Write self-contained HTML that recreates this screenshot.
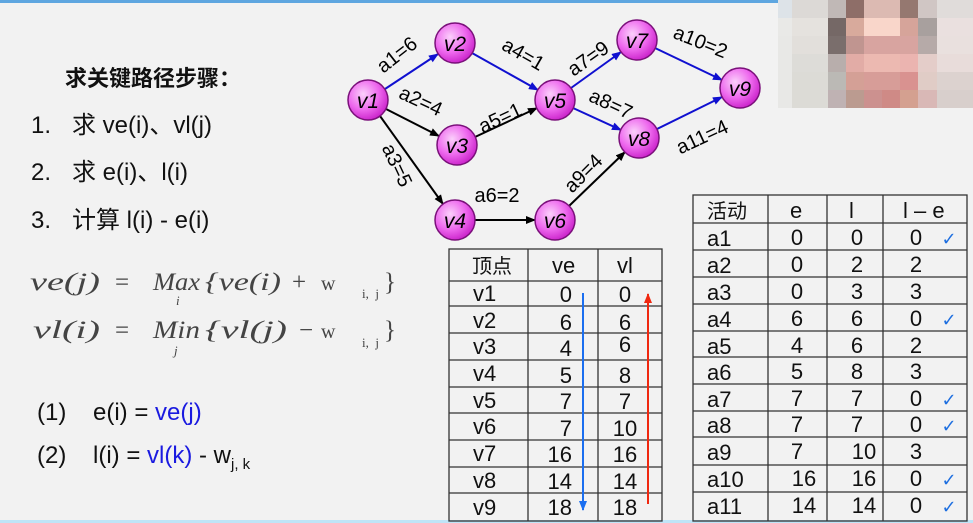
<!DOCTYPE html>
<html><head><meta charset="utf-8"><style>
html,body{margin:0;padding:0;background:#f2f2f2;}
svg{display:block}
text{white-space:pre}
</style></head><body>
<svg width="973" height="523" viewBox="0 0 973 523" xmlns="http://www.w3.org/2000/svg" xml:space="preserve">
<defs>
<radialGradient id="ng" cx="0.38" cy="0.35" r="0.7">
<stop offset="0" stop-color="#fbd0fb"/><stop offset="0.55" stop-color="#ee6aee"/><stop offset="1" stop-color="#c81ec8"/>
</radialGradient>
<marker id="ab" markerWidth="10" markerHeight="8" refX="9" refY="4" orient="auto" markerUnits="userSpaceOnUse"><path d="M0,0 L10,4 L0,8 Z" fill="#1010d0"/></marker>
<marker id="ak" markerWidth="10" markerHeight="8" refX="9" refY="4" orient="auto" markerUnits="userSpaceOnUse"><path d="M0,0 L10,4 L0,8 Z" fill="#000"/></marker>
<marker id="tb" markerWidth="10" markerHeight="8" refX="9" refY="4" orient="auto" markerUnits="userSpaceOnUse"><path d="M0,0 L10,4 L0,8 Z" fill="#1a6ef0"/></marker>
<marker id="tr" markerWidth="10" markerHeight="8" refX="9" refY="4" orient="auto" markerUnits="userSpaceOnUse"><path d="M0,0 L10,4 L0,8 Z" fill="#f02810"/></marker>
</defs>
<rect width="973" height="523" fill="#f2f2f2"/>
<rect x="0" y="0" width="783" height="3" fill="#5ea6e0"/>
<rect x="0" y="520" width="973" height="3" fill="#bfe4f7"/>

<g>
<rect x="778" y="0" width="195" height="108" fill="#e6e5e2"/>
<rect x="778" y="0" width="14" height="18" fill="#dde3e8"/><rect x="792" y="0" width="36" height="18" fill="#dcd9d6"/><rect x="828" y="0" width="18" height="18" fill="#c0b8b6"/><rect x="846" y="0" width="18" height="18" fill="#8e6e68"/><rect x="864" y="0" width="36" height="18" fill="#dcbab2"/><rect x="900" y="0" width="18" height="18" fill="#957870"/><rect x="918" y="0" width="19" height="18" fill="#d0c6c4"/><rect x="937" y="0" width="36" height="18" fill="#e0dcda"/>
<rect x="778" y="18" width="14" height="18" fill="#e9e9e7"/><rect x="792" y="18" width="36" height="18" fill="#e5e2de"/><rect x="828" y="18" width="18" height="18" fill="#756866"/><rect x="846" y="18" width="18" height="18" fill="#d8aa9c"/><rect x="864" y="18" width="36" height="18" fill="#f9d6ca"/><rect x="900" y="18" width="18" height="18" fill="#d6a49a"/><rect x="918" y="18" width="19" height="18" fill="#a8a09e"/><rect x="937" y="18" width="36" height="18" fill="#eae0df"/>
<rect x="778" y="36" width="14" height="18" fill="#e8e8e6"/><rect x="792" y="36" width="36" height="18" fill="#e2dfdb"/><rect x="828" y="36" width="18" height="18" fill="#7a6e6c"/><rect x="846" y="36" width="18" height="18" fill="#c09590"/><rect x="864" y="36" width="54" height="18" fill="#d8a4a0"/><rect x="918" y="36" width="19" height="18" fill="#b6aaa8"/><rect x="937" y="36" width="36" height="18" fill="#e9e0de"/>
<rect x="778" y="54" width="14" height="18" fill="#e8e8e6"/><rect x="792" y="54" width="36" height="18" fill="#dddcd8"/><rect x="828" y="54" width="18" height="18" fill="#b8aeac"/><rect x="846" y="54" width="18" height="18" fill="#e2aca6"/><rect x="864" y="54" width="36" height="18" fill="#ecb9b1"/><rect x="900" y="54" width="18" height="18" fill="#ebb4b0"/><rect x="918" y="54" width="19" height="18" fill="#e4cdc9"/><rect x="937" y="54" width="36" height="18" fill="#e8dcda"/>
<rect x="778" y="72" width="14" height="18" fill="#e8e8e6"/><rect x="792" y="72" width="36" height="18" fill="#dcdbd6"/><rect x="828" y="72" width="18" height="18" fill="#bbb9b5"/><rect x="846" y="72" width="18" height="18" fill="#d4a096"/><rect x="864" y="72" width="36" height="18" fill="#d79d98"/><rect x="900" y="72" width="18" height="18" fill="#d99290"/><rect x="918" y="72" width="19" height="18" fill="#e0ccc6"/><rect x="937" y="72" width="36" height="18" fill="#dcd2cf"/>
<rect x="778" y="90" width="14" height="18" fill="#e8e8e6"/><rect x="792" y="90" width="36" height="18" fill="#dcdbd6"/><rect x="828" y="90" width="18" height="18" fill="#bfb2b3"/><rect x="846" y="90" width="18" height="18" fill="#bb9b90"/><rect x="864" y="90" width="18" height="18" fill="#cc918f"/><rect x="882" y="90" width="18" height="18" fill="#cf8a86"/><rect x="900" y="90" width="18" height="18" fill="#d4a090"/><rect x="918" y="90" width="19" height="18" fill="#d9b8b6"/><rect x="937" y="90" width="36" height="18" fill="#d8cfcc"/>
</g>

<g font-family="Liberation Sans,Noto Sans CJK SC,sans-serif" fill="#111">
<text x="65" y="86" font-size="22" font-weight="bold">求关键路径步骤：</text>
<text x="31" y="133" font-size="24"><tspan>1.</tspan><tspan x="72">求 ve(i)、vl(j)</tspan></text>
<text x="31" y="180" font-size="24"><tspan>2.</tspan><tspan x="72">求 e(i)、l(i)</tspan></text>
<text x="31" y="228" font-size="24"><tspan>3.</tspan><tspan x="72">计算 l(i) - e(i)</tspan></text>
</g>
<g font-family="Liberation Serif,serif" fill="#444" font-size="25" font-style="italic">
<text x="30" y="290" textLength="70" lengthAdjust="spacingAndGlyphs">ve(j)</text>
<text x="115" y="290" font-style="normal">=</text>
<text x="153" y="290" textLength="47" lengthAdjust="spacingAndGlyphs">Max</text>
<text x="205" y="290" textLength="76" lengthAdjust="spacingAndGlyphs">{ve(i)</text>
<text x="292" y="290" font-style="normal">+</text>
<text x="321" y="290" font-style="normal" font-size="20">w</text>
<text x="362" y="298" font-style="normal" font-size="13">i,  j</text>
<text x="384" y="290" font-style="normal">}</text>
<text x="176" y="305" font-size="13">i</text>
<text x="33" y="338" textLength="67" lengthAdjust="spacingAndGlyphs">vl(i)</text>
<text x="115" y="338" font-style="normal">=</text>
<text x="153" y="338" textLength="47" lengthAdjust="spacingAndGlyphs">Min</text>
<text x="205" y="338" textLength="82" lengthAdjust="spacingAndGlyphs">{vl(j)</text>
<text x="299" y="338" font-style="normal">−</text>
<text x="321" y="338" font-style="normal" font-size="20">w</text>
<text x="362" y="347" font-style="normal" font-size="13">i,  j</text>
<text x="384" y="338" font-style="normal">}</text>
<text x="174" y="355" font-size="13">j</text>
</g>
<g font-family="Liberation Sans,sans-serif" font-size="24" fill="#111">
<text x="37" y="420"><tspan>(1)</tspan><tspan x="93">e(i) = </tspan><tspan fill="#1a1ae0">ve(j)</tspan></text>
<text x="37" y="463"><tspan>(2)</tspan><tspan x="93">l(i) = </tspan><tspan fill="#1a1ae0">vl(k)</tspan><tspan> - w</tspan><tspan font-size="15" dy="6">j, k</tspan></text>
</g>

<g stroke-width="2" fill="none">
<line x1="385" y1="89" x2="438" y2="54" stroke="#1010d0" marker-end="url(#ab)"/>
<line x1="472" y1="53" x2="538" y2="90" stroke="#1010d0" marker-end="url(#ab)"/>
<line x1="571" y1="88" x2="621" y2="52" stroke="#1010d0" marker-end="url(#ab)"/>
<line x1="573" y1="108" x2="621" y2="130" stroke="#1010d0" marker-end="url(#ab)"/>
<line x1="655" y1="48" x2="722" y2="80" stroke="#1010d0" marker-end="url(#ab)"/>
<line x1="657" y1="129" x2="722" y2="97" stroke="#1010d0" marker-end="url(#ab)"/>
<line x1="386" y1="109" x2="439" y2="136" stroke="#000" marker-end="url(#ak)"/>
<line x1="380" y1="116" x2="443" y2="204" stroke="#000" marker-end="url(#ak)"/>
<line x1="475" y1="137" x2="537" y2="108" stroke="#000" marker-end="url(#ak)"/>
<line x1="475" y1="220" x2="535" y2="220" stroke="#000" marker-end="url(#ak)"/>
<line x1="569" y1="206" x2="625" y2="152" stroke="#000" marker-end="url(#ak)"/>
</g>
<g font-family="Liberation Sans,sans-serif" font-size="20" fill="#000" text-anchor="middle">
<text transform="translate(401,60) rotate(-38)">a1=6</text>
<text transform="translate(520,60) rotate(30)">a4=1</text>
<text transform="translate(418,107) rotate(25)">a2=4</text>
<text transform="translate(391,168) rotate(65)">a3=5</text>
<text transform="translate(503,124) rotate(-25)">a5=1</text>
<text x="497" y="202">a6=2</text>
<text transform="translate(592,64) rotate(-35)">a7=9</text>
<text transform="translate(608,110) rotate(25)">a8=7</text>
<text transform="translate(588,178) rotate(-45)">a9=4</text>
<text transform="translate(698,48) rotate(22)">a10=2</text>
<text transform="translate(705,143) rotate(-25)">a11=4</text>
</g>
<g font-family="Liberation Sans,sans-serif" font-size="21" font-style="italic" text-anchor="middle" fill="#000">
<g stroke="#7a107a" stroke-width="1.5" fill="url(#ng)">
<circle cx="368" cy="100" r="20"/><circle cx="455" cy="43" r="20"/><circle cx="457" cy="145" r="20"/><circle cx="455" cy="220" r="20"/><circle cx="555" cy="100" r="20"/><circle cx="555" cy="220" r="20"/><circle cx="637" cy="40" r="20"/><circle cx="639" cy="138" r="20"/><circle cx="740" cy="88" r="20"/>
</g>
<text x="368" y="108">v1</text><text x="455" y="51">v2</text><text x="457" y="153">v3</text><text x="455" y="228">v4</text><text x="555" y="108">v5</text><text x="555" y="228">v6</text><text x="637" y="48">v7</text><text x="639" y="146">v8</text><text x="740" y="96">v9</text>
</g>

<g stroke="#333" stroke-width="1.3" fill="none">
<rect x="449" y="249" width="213" height="272"/>
<line x1="528" y1="249" x2="528" y2="521"/><line x1="598" y1="249" x2="598" y2="521"/>
<line x1="449" y1="281" x2="662" y2="281"/><line x1="449" y1="306" x2="662" y2="306"/><line x1="449" y1="333" x2="662" y2="333"/><line x1="449" y1="360" x2="662" y2="360"/><line x1="449" y1="387" x2="662" y2="387"/><line x1="449" y1="413" x2="662" y2="413"/><line x1="449" y1="440" x2="662" y2="440"/><line x1="449" y1="467" x2="662" y2="467"/><line x1="449" y1="493" x2="662" y2="493"/>
</g>
<g font-family="Liberation Sans,Noto Sans CJK SC,sans-serif" font-size="22" fill="#111">
<text x="472" y="273" font-size="20">顶点</text><text x="552" y="273">ve</text><text x="617" y="273">vl</text>
<g>
<text x="473" y="301">v1</text><text x="473" y="328">v2</text><text x="473" y="354">v3</text><text x="473" y="381">v4</text><text x="473" y="408">v5</text><text x="473" y="434">v6</text><text x="473" y="461">v7</text><text x="473" y="488">v8</text><text x="473" y="515">v9</text>
</g>
<g text-anchor="end">
<text x="572" y="302">0</text><text x="572" y="330">6</text><text x="572" y="356">4</text><text x="572" y="383">5</text><text x="572" y="409">7</text><text x="572" y="436">7</text><text x="572" y="462">16</text><text x="572" y="489">14</text><text x="572" y="515">18</text>
</g>
<g text-anchor="middle">
<text x="625" y="302">0</text><text x="625" y="330">6</text><text x="625" y="352">6</text><text x="625" y="383">8</text><text x="625" y="409">7</text><text x="625" y="436">10</text><text x="625" y="462">16</text><text x="625" y="489">14</text><text x="625" y="515">18</text>
</g>
</g>
<line x1="583" y1="293" x2="583" y2="510" stroke="#1a6ef0" stroke-width="2" marker-end="url(#tb)"/>
<line x1="648" y1="504" x2="648" y2="294" stroke="#f02810" stroke-width="2" marker-end="url(#tr)"/>

<g stroke="#333" stroke-width="1.3" fill="none">
<rect x="693" y="195" width="274" height="326"/>
<line x1="768" y1="195" x2="768" y2="521"/><line x1="827" y1="195" x2="827" y2="521"/><line x1="883" y1="195" x2="883" y2="521"/>
<line x1="693" y1="223" x2="967" y2="223"/><line x1="693" y1="250" x2="967" y2="250"/><line x1="693" y1="277" x2="967" y2="277"/><line x1="693" y1="304" x2="967" y2="304"/><line x1="693" y1="331" x2="967" y2="331"/><line x1="693" y1="357" x2="967" y2="357"/><line x1="693" y1="384" x2="967" y2="384"/><line x1="693" y1="411" x2="967" y2="411"/><line x1="693" y1="437" x2="967" y2="437"/><line x1="693" y1="465" x2="967" y2="465"/><line x1="693" y1="492" x2="967" y2="492"/>
</g>
<g font-family="Liberation Sans,Noto Sans CJK SC,sans-serif" font-size="22" fill="#111">
<text x="707" y="218" font-size="20">活动</text><text x="790" y="218">e</text><text x="849" y="218">l</text><text x="903" y="218">l – e</text>
<g>
<text x="707" y="246">a1</text><text x="707" y="273">a2</text><text x="707" y="300">a3</text><text x="707" y="327">a4</text><text x="707" y="354">a5</text><text x="707" y="380">a6</text><text x="707" y="407">a7</text><text x="707" y="433">a8</text><text x="707" y="460">a9</text><text x="707" y="487">a10</text><text x="707" y="514">a11</text>
</g>
<g text-anchor="middle">
<text x="797" y="245">0</text><text x="797" y="272">0</text><text x="797" y="299">0</text><text x="797" y="326">6</text><text x="797" y="353">4</text><text x="797" y="379">5</text><text x="797" y="406">7</text><text x="797" y="432">7</text><text x="797" y="459">7</text><text x="804" y="486">16</text><text x="804" y="513">14</text>
<text x="857" y="245">0</text><text x="857" y="272">2</text><text x="857" y="299">3</text><text x="857" y="326">6</text><text x="857" y="353">6</text><text x="857" y="379">8</text><text x="857" y="406">7</text><text x="857" y="432">7</text><text x="864" y="459">10</text><text x="864" y="486">16</text><text x="864" y="513">14</text>
<text x="916" y="245">0</text><text x="916" y="272">2</text><text x="916" y="299">3</text><text x="916" y="326">0</text><text x="916" y="353">2</text><text x="916" y="379">3</text><text x="916" y="406">0</text><text x="916" y="432">0</text><text x="916" y="459">3</text><text x="916" y="486">0</text><text x="916" y="513">0</text>
</g>
</g>
<g fill="#1e6fe0" font-family="DejaVu Sans,sans-serif" font-size="18" text-anchor="middle">
<text x="949" y="245">✓</text><text x="949" y="326">✓</text><text x="949" y="406">✓</text><text x="949" y="432">✓</text><text x="949" y="486">✓</text><text x="949" y="513">✓</text>
</g>
</svg>
</body></html>
